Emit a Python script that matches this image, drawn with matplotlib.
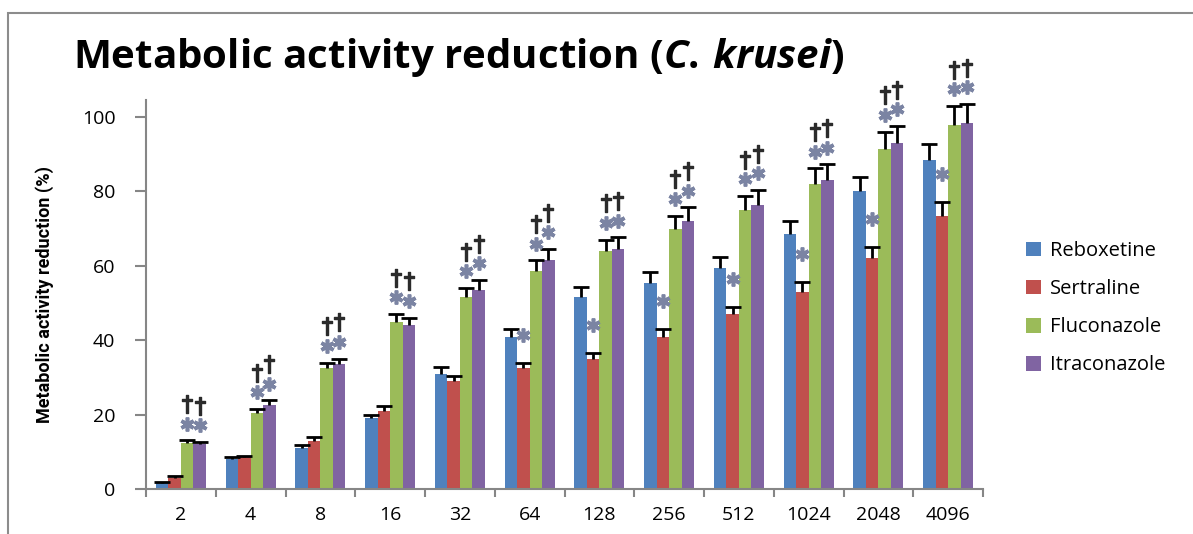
import numpy as np
import matplotlib
matplotlib.use("Agg")
import matplotlib.pyplot as plt
from matplotlib.patches import Rectangle

# concentrations (x axis)
conc = ["2", "4", "8", "16", "32", "64", "128", "256", "512", "1024", "2048", "4096"]
drugs = ["Reboxetine", "Sertraline", "Fluconazole", "Itraconazole"]
colors = ["#4F81BD", "#C0504D", "#9BBB59", "#8064A2"]

reboxetine = [1.5, 8, 11, 19, 31, 41, 51.5, 55.5, 59.5, 68.5, 80, 88.5]
sertraline = [3, 8.5, 13, 21, 29, 32.5, 35, 41, 47, 53, 62, 73.5]
fluconazole = [12.5, 20.5, 32.5, 45, 51.5, 58.5, 64, 70, 75, 82, 91.5, 98]
itraconazole = [12, 22.5, 33.5, 44, 53.5, 61.5, 64.5, 72, 76.5, 83, 93, 98.5]

reb_err = [0.4, 0.5, 0.7, 1.0, 1.8, 2.0, 2.7, 2.8, 3.0, 3.5, 4.0, 4.4]
sert_err = [0.4, 0.5, 1.0, 1.2, 1.3, 1.5, 1.7, 2.0, 2.0, 2.7, 3.0, 3.8]
flu_err = [0.6, 1.0, 1.5, 2.0, 2.5, 3.0, 3.0, 3.5, 3.8, 4.2, 4.6, 5.0]
itr_err = [0.6, 1.3, 1.5, 2.0, 2.7, 3.0, 3.2, 3.7, 3.9, 4.3, 4.6, 5.0]

# significance marks (* and dagger) per group
sert_sig = [0, 0, 0, 0, 0, 1, 1, 1, 1, 1, 1, 1]
azole_sig = [1, 1, 1, 1, 1, 1, 1, 1, 1, 1, 1, 1]

values = [reboxetine, sertraline, fluconazole, itraconazole]
errors = [reb_err, sert_err, flu_err, itr_err]

fig = plt.figure(figsize=(11.93, 5.34), dpi=100)
ax = fig.add_axes([0.1224, 0.0843, 0.7016, 0.7284])

x = np.arange(len(conc))
w = 0.179
axis_col = "#868686"

for i, (vals, errs) in enumerate(zip(values, errors)):
    pos = x + (i - 1.5) * w
    ax.bar(pos, vals, width=w, color=colors[i], label=drugs[i], zorder=2)
    eb = ax.errorbar(pos, vals, yerr=[np.zeros(len(errs)), errs], fmt="none",
                     ecolor="black", elinewidth=2, capsize=6, capthick=2, zorder=3)
    eb[1][0].set_visible(False)  # only the upper cap

star_col = "#7b84a3"
dag_col = "#2b2b2b"
for j in range(len(conc)):
    if sert_sig[j]:
        ax.plot(x[j] - 0.5 * w, sertraline[j] + sert_err[j] + 7.5, marker=(6, 2, 0),
                ms=10, mew=2.6, color=star_col, zorder=4, clip_on=False)
    if azole_sig[j]:
        for k in (2, 3):
            top = values[k][j] + errors[k][j]
            px = x[j] + (k - 1.5) * w
            ax.plot(px, top + 4.5, marker=(6, 2, 0), ms=10, mew=2.6,
                    color=star_col, zorder=4, clip_on=False)
            ax.plot(px, top + 9.8, marker=r"$\dagger$", ms=13,
                    color=dag_col, zorder=4, clip_on=False)

ax.set_xlim(-0.5, len(conc) - 0.5)
ax.set_ylim(0, 104.6)
ax.set_yticks(np.arange(0, 101, 20))
ax.set_xticks(x)
ax.set_xticklabels(conc)
ax.set_xticks(np.arange(-0.5, len(conc), 1), minor=True)
ax.tick_params(axis="x", which="major", length=0, pad=12, labelsize=14)
ax.tick_params(axis="x", which="minor", length=6, width=1.5, color=axis_col)
ax.tick_params(axis="y", length=8, width=1.5, color=axis_col, pad=14, labelsize=14)
for lab in ax.get_xticklabels() + ax.get_yticklabels():
    lab.set_fontfamily("Open Sans")
for s in ("top", "right"):
    ax.spines[s].set_visible(False)
for s in ("left", "bottom"):
    ax.spines[s].set_color(axis_col)
    ax.spines[s].set_linewidth(1.5)

ax.set_ylabel("Metabolic activity reduction (%)", fontfamily="Roboto",
              fontweight="bold", fontsize=13, labelpad=20)

plt.rcParams["mathtext.fontset"] = "custom"
plt.rcParams["mathtext.it"] = "Open Sans:italic:bold"
plt.rcParams["mathtext.rm"] = "Open Sans:bold"
fig.text(0.061, 0.893, r"Metabolic activity reduction ($\mathit{C.\,krusei}$)",
         fontfamily="Open Sans", fontweight="bold", fontsize=29, va="center")

leg = fig.legend(loc="center left", bbox_to_anchor=(0.845, 0.423), frameon=False,
                 handlelength=0.75, handleheight=0.75, handletextpad=0.45,
                 labelspacing=0.9, prop={"family": "Open Sans", "size": 14.5})

# outer frame
fig.patches.append(Rectangle((8 / 1193, -0.1), 1.2, 1.1 - 13 / 534, transform=fig.transFigure,
                             fill=False, edgecolor="#8c8c8c", linewidth=1.5))

fig.savefig("out.png", dpi=100)
